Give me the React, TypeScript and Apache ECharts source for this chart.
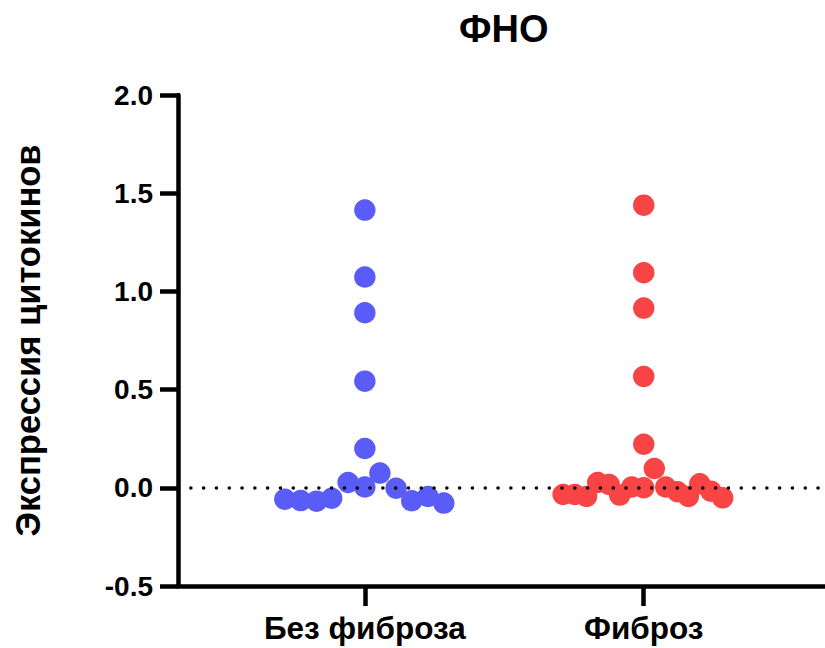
import React, { useEffect, useRef } from "react";
import * as echarts from "echarts";

const title = "ФНО";
const yAxisTitle = "Экспрессия цитокинов";
const categories = ["Без фиброза", "Фиброз"];
const yTicks = [-0.5, 0, 0.5, 1.0, 1.5, 2.0];

// Без фиброза: values and horizontal swarm offsets (in category units)
const noFibrosisValues = [1.414, 1.073, 0.891, 0.543, 0.2, -0.058, -0.065, -0.068, -0.053, 0.027, 0.004, 0.075, -0.002, -0.066, -0.044, -0.078];
const noFibrosisOffsets = [0, 0, 0, 0, 0, -0.287, -0.23, -0.173, -0.119, -0.06, 0, 0.054, 0.112, 0.168, 0.226, 0.283];

// Фиброз
const fibrosisValues = [1.439, 1.095, 0.915, 0.567, 0.222, 0.098, -0.034, -0.034, -0.044, 0.027, 0.017, -0.037, 0.004, 0.0, 0.004, -0.02, -0.044, 0.02, -0.017, -0.051];
const fibrosisOffsets = [0, 0, 0, 0, 0, 0.038, -0.289, -0.247, -0.205, -0.165, -0.124, -0.086, -0.043, 0, 0.079, 0.121, 0.16, 0.201, 0.241, 0.283];

const FONT = "Liberation Sans, Arial, Helvetica, sans-serif";

export default function App() {
  const ref = useRef<HTMLDivElement>(null);
  useEffect(() => {
    if (!ref.current) return;
    const chart = echarts.init(ref.current, undefined, { renderer: "svg" });
    const mk = (vals: number[], offs: number[], pos: number) =>
      vals.map((v, i) => [pos + offs[i], v]);
    chart.setOption({
      animation: false,
      title: {
        text: title,
        left: 454,
        top: 5,
        textStyle: { fontFamily: FONT, fontWeight: "bold", fontSize: 38, color: "#000" },
      },
      grid: { left: 178, right: 0, top: 95, bottom: 62, containLabel: false },
      xAxis: {
        type: "value",
        min: 0.33,
        max: 2.65,
        splitLine: { show: false },
        axisLine: { show: true, onZero: false, lineStyle: { color: "#000", width: 4.5 } },
        axisTick: {
          show: true,
          customValues: [1, 2],
          length: 20,
          lineStyle: { color: "#000", width: 4.5 },
        },
        axisLabel: {
          show: true,
          customValues: [1, 2],
          formatter: (v: number) => categories[Math.round(v) - 1] ?? "",
          margin: 26,
          fontFamily: FONT,
          fontWeight: "bold",
          fontSize: 31.5,
          color: "#000",
        },
      },
      yAxis: {
        type: "value",
        min: -0.5,
        max: 2.0,
        interval: 0.5,
        name: yAxisTitle,
        nameLocation: "middle",
        nameRotate: 90,
        nameGap: 133,
        nameTextStyle: { fontFamily: FONT, fontWeight: "bold", fontSize: 34.5, color: "#000" },
        splitLine: { show: false },
        axisLine: { show: true, lineStyle: { color: "#000", width: 4.5 } },
        axisTick: { show: true, length: 18, lineStyle: { color: "#000", width: 4.5 } },
        axisLabel: {
          customValues: yTicks,
          formatter: (v: number) => v.toFixed(1),
          margin: 25,
          fontFamily: FONT,
          fontWeight: "bold",
          fontSize: 28,
          color: "#000",
        },
      },
      series: [
        {
          type: "scatter",
          name: categories[0],
          data: mk(noFibrosisValues, noFibrosisOffsets, 1),
          symbol: "circle",
          symbolSize: 21.5,
          itemStyle: { color: "#5A5CF7", opacity: 1 },
          z: 3,
          markLine: {
            silent: true,
            symbol: "none",
            label: { show: false },
            lineStyle: { color: "#000", width: 3.5, type: [0.1, 12.7], cap: "round" },
            data: [{ yAxis: 0 }],
          },
        },
        {
          type: "scatter",
          name: categories[1],
          data: mk(fibrosisValues, fibrosisOffsets, 2),
          symbol: "circle",
          symbolSize: 21.5,
          itemStyle: { color: "#F84444", opacity: 1 },
          z: 3,
        },
      ],
    });
    return () => chart.dispose();
  }, []);
  return <div ref={ref} style={{ width: 825, height: 648, position: "absolute", left: 0, top: 0 }} />;
}
